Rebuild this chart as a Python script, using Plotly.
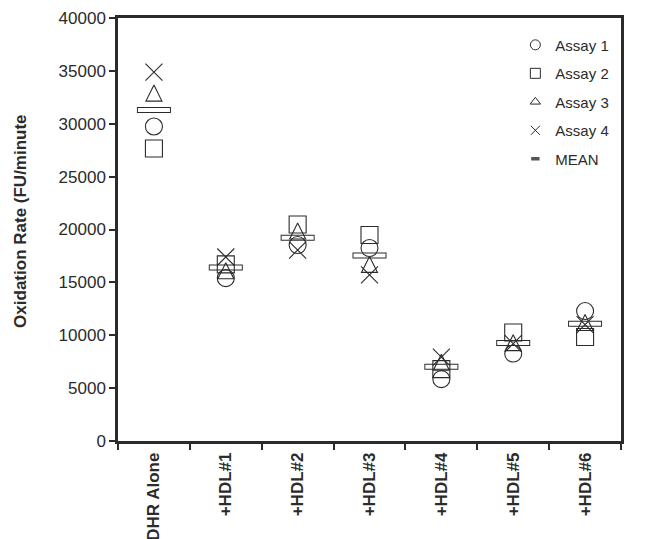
import plotly.graph_objects as go

# Oxidation rate of DHR alone and with six HDL preparations (four assays + mean)
categories = ["DHR Alone", "+HDL#1", "+HDL#2", "+HDL#3", "+HDL#4", "+HDL#5", "+HDL#6"]
assay1 = [29740, 15400, 18530, 18250, 5850, 8270, 12290]
assay2 = [27660, 16700, 20470, 19480, 6800, 10260, 9830]
assay3 = [32900, 16100, 19860, 16700, 7450, 9300, 11200]
assay4 = [34890, 17400, 18060, 15700, 7940, 9200, 11000]
mean_vals = [31300, 16400, 19230, 17530, 7010, 9260, 11080]

y_ticks = [0, 5000, 10000, 15000, 20000, 25000, 30000, 35000, 40000]
legend_labels = ["Assay 1", "Assay 2", "Assay 3", "Assay 4", "MEAN"]

INK = "#2b2b2b"
CLEAR = "rgba(0,0,0,0)"
FONT = "Liberation Sans, Arial, sans-serif"

fig = go.Figure()

# mean: outlined horizontal bar (dark stroke under a slightly smaller white stroke)
fig.add_trace(go.Scatter(x=categories, y=mean_vals, mode="markers", showlegend=False,
                         hoverinfo="skip",
                         marker=dict(symbol="line-ew", size=24.3, color=INK,
                                     line=dict(color=INK, width=6))))
fig.add_trace(go.Scatter(x=categories, y=mean_vals, mode="markers", showlegend=False,
                         marker=dict(symbol="line-ew", size=22.9, color="white",
                                     line=dict(color="white", width=4))))

# individual assays
fig.add_trace(go.Scatter(x=categories, y=assay1, mode="markers", showlegend=False,
                         marker=dict(symbol="circle", size=17, color=CLEAR,
                                     line=dict(color=INK, width=1.1))))
fig.add_trace(go.Scatter(x=categories, y=assay2, mode="markers", showlegend=False,
                         marker=dict(symbol="square", size=17, color=CLEAR,
                                     line=dict(color=INK, width=1.1))))
fig.add_trace(go.Scatter(x=categories, y=assay3, mode="markers", showlegend=False,
                         marker=dict(symbol="arrow-down", angle=180, standoff=8,
                                     size=16, color=CLEAR,
                                     line=dict(color=INK, width=1.1))))
fig.add_trace(go.Scatter(x=categories, y=assay4, mode="markers", showlegend=False,
                         marker=dict(symbol="x-thin", size=17, color=INK,
                                     line=dict(color=INK, width=1.1))))

# legend keys (small symbols)
legend_markers = [
    dict(symbol="circle", size=10, color=CLEAR, line=dict(color=INK, width=1)),
    dict(symbol="square", size=10, color=CLEAR, line=dict(color=INK, width=1)),
    dict(symbol="triangle-up", size=9, color=CLEAR, line=dict(color=INK, width=1)),
    dict(symbol="x-thin", size=9, color=INK, line=dict(color=INK, width=1)),
    dict(symbol="line-ew", size=6, color="#555", line=dict(color="#555", width=3.5)),
]
for i, (lab, mk) in enumerate(zip(legend_labels, legend_markers)):
    fig.add_trace(go.Scatter(x=[None], y=[None], mode="markers", name=lab,
                             legendgroup=f"g{i}", marker=mk))

fig.update_layout(
    width=645, height=539,
    margin=dict(l=118, r=24, t=18, b=98, autoexpand=False),
    paper_bgcolor="white", plot_bgcolor="white",
    font=dict(family=FONT, color=INK),
    legend=dict(x=0.79, y=0.975, xanchor="left", yanchor="top",
                font=dict(size=15, family=FONT, color=INK),
                traceorder="grouped", tracegroupgap=6,
                bgcolor=CLEAR, itemwidth=30),
    annotations=[dict(text="Oxidation Rate (FU/minute", xref="paper", yref="paper",
                      x=-0.194, y=0.519, xanchor="center", yanchor="middle",
                      textangle=-90, showarrow=False,
                      font=dict(size=17, family=FONT, color=INK, weight="bold"))],
)

fig.update_xaxes(
    type="category", categoryorder="array", categoryarray=categories,
    range=[-0.5, len(categories) - 0.5], automargin=False,
    showline=True, linewidth=2.5, linecolor=INK, mirror=True,
    ticks="outside", tickson="boundaries", ticklen=6, tickwidth=2, tickcolor=INK,
    tickangle=-90, tickfont=dict(size=17, family=FONT, color=INK, weight="bold"),
    ticklabelstandoff=2, showgrid=False, zeroline=False,
)
fig.update_yaxes(
    range=[0, 40000], tickvals=y_ticks, ticktext=[str(v) for v in y_ticks],
    automargin=False,
    showline=True, linewidth=2.5, linecolor=INK, mirror=True,
    ticks="outside", ticklen=6, tickwidth=2, tickcolor=INK,
    tickfont=dict(size=17, family=FONT, color=INK),
    ticklabelstandoff=0, showgrid=False, zeroline=False,
)

fig.write_html("out.html")
